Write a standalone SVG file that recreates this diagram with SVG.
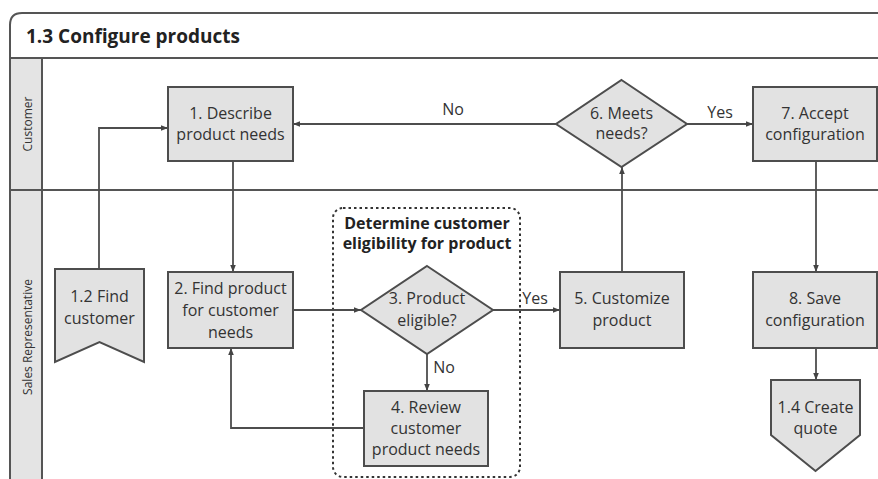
<svg xmlns="http://www.w3.org/2000/svg" width="878" height="479" viewBox="0 0 878 479">
  <defs>
    <marker id="arrow" viewBox="0 0 10 10" refX="10" refY="5" markerWidth="7" markerHeight="7" markerUnits="userSpaceOnUse" orient="auto">
      <path d="M0,1 L10,5 L0,9 z" fill="#444"/>
    </marker>
    <style>
      .frame { fill: none; stroke: #555; stroke-width: 2; }
      .lane { fill: #e4e4e4; stroke: #555; stroke-width: 2; }
      .box { fill: #e2e2e2; stroke: #4d4d4d; stroke-width: 2; }
      .edge { fill: none; stroke: #4d4d4d; stroke-width: 1.8; marker-end: url(#arrow); }
      .t { font-family: "Open Sans", "Noto Sans", sans-serif; font-size: 16px; fill: #333; text-anchor: middle; }
      .lbl { font-family: "Open Sans", "Noto Sans", sans-serif; font-size: 16px; fill: #333; text-anchor: middle; }
      .lanet { font-family: "Open Sans", "Noto Sans", sans-serif; font-size: 12px; fill: #333; text-anchor: middle; }
      .title { font-family: "Open Sans", "Noto Sans", sans-serif; font-size: 19px; font-weight: bold; fill: #222; }
      .grp { fill: none; stroke: #333; stroke-width: 2; stroke-dasharray: 2.5 3; }
      .grpt { font-family: "Open Sans", "Noto Sans", sans-serif; font-size: 16px; font-weight: bold; fill: #222; text-anchor: middle; }
    </style>
  </defs>

  <rect width="878" height="479" fill="#ffffff"/>

  <!-- pool frame and lanes -->
  <g id="pool">
    <path class="frame" d="M880,13 L22,13 Q10,13 10,25 L10,480"/>
    <line class="frame" x1="10" y1="58" x2="880" y2="58"/>
    <line class="frame" x1="10" y1="190" x2="880" y2="190"/>
    <rect class="lane" x="10" y="58" width="32" height="132"/>
    <rect class="lane" x="10" y="190" width="32" height="292"/>
    <text class="title" x="26" y="43">1.3 Configure products</text>
    <text class="lanet" transform="translate(32,124) rotate(-90)">Customer</text>
    <text class="lanet" transform="translate(32,337) rotate(-90)">Sales Representative</text>
  </g>

  <!-- sub-process group -->
  <g id="group-eligibility">
    <rect class="grp" x="333" y="208" width="187" height="269" rx="10"/>
    <text class="grpt" x="427" y="229">Determine customer</text>
    <text class="grpt" x="427" y="249">eligibility for product</text>
  </g>

  <!-- connectors -->
  <g id="connectors">
    <path class="edge" d="M99,269 L99,128 L168,128"/>
    <path class="edge" d="M233,161 L233,272"/>
    <path class="edge" d="M293,310 L361,310"/>
    <path class="edge" d="M493,310 L560,310"/>
    <path class="edge" d="M427,354 L427,391"/>
    <path class="edge" d="M364,428 L231,428 L231,348"/>
    <path class="edge" d="M622,272 L622,167"/>
    <path class="edge" d="M556,124 L293,124"/>
    <path class="edge" d="M687,124 L753,124"/>
    <path class="edge" d="M816,161 L816,272"/>
    <path class="edge" d="M816,348 L816,380"/>
    <text class="lbl" x="453" y="115">No</text>
    <text class="lbl" x="720" y="118">Yes</text>
    <text class="lbl" x="535" y="304">Yes</text>
    <text class="lbl" x="444" y="373">No</text>
  </g>

  <g id="node-1">
    <rect class="box" x="168" y="87" width="125" height="74"/>
    <text class="t" x="230.5" y="119">1. Describe</text>
    <text class="t" x="230.5" y="140">product needs</text>
  </g>

  <g id="node-1-2">
    <path class="box" d="M55,269 L144,269 L144,362 L99.5,342 L55,362 Z"/>
    <text class="t" x="99.5" y="302">1.2 Find</text>
    <text class="t" x="99.5" y="324">customer</text>
  </g>

  <g id="node-2">
    <rect class="box" x="168" y="272" width="125" height="76"/>
    <text class="t" x="230.5" y="294">2. Find product</text>
    <text class="t" x="230.5" y="316">for customer</text>
    <text class="t" x="230.5" y="338">needs</text>
  </g>

  <g id="node-3">
    <path class="box" d="M427,266 L493,310 L427,354 L361,310 Z"/>
    <text class="t" x="427" y="304">3. Product</text>
    <text class="t" x="427" y="326">eligible?</text>
  </g>

  <g id="node-4">
    <rect class="box" x="364" y="391" width="124" height="75"/>
    <text class="t" x="426" y="413">4. Review</text>
    <text class="t" x="426" y="434">customer</text>
    <text class="t" x="426" y="455">product needs</text>
  </g>

  <g id="node-5">
    <rect class="box" x="560" y="272" width="124" height="76"/>
    <text class="t" x="622" y="304">5. Customize</text>
    <text class="t" x="622" y="326">product</text>
  </g>

  <g id="node-6">
    <path class="box" d="M621.5,80 L687,124 L621.5,167 L556,124 Z"/>
    <text class="t" x="621.5" y="119">6. Meets</text>
    <text class="t" x="621.5" y="139">needs?</text>
  </g>

  <g id="node-7">
    <rect class="box" x="753" y="87" width="124" height="74"/>
    <text class="t" x="815" y="119">7. Accept</text>
    <text class="t" x="815" y="140">configuration</text>
  </g>

  <g id="node-8">
    <rect class="box" x="753" y="272" width="124" height="76"/>
    <text class="t" x="815" y="304">8. Save</text>
    <text class="t" x="815" y="326">configuration</text>
  </g>

  <g id="node-1-4">
    <path class="box" d="M771,380 L860,380 L860,435 L815.5,471 L771,435 Z"/>
    <text class="t" x="815.5" y="413">1.4 Create</text>
    <text class="t" x="815.5" y="434">quote</text>
  </g>
</svg>
